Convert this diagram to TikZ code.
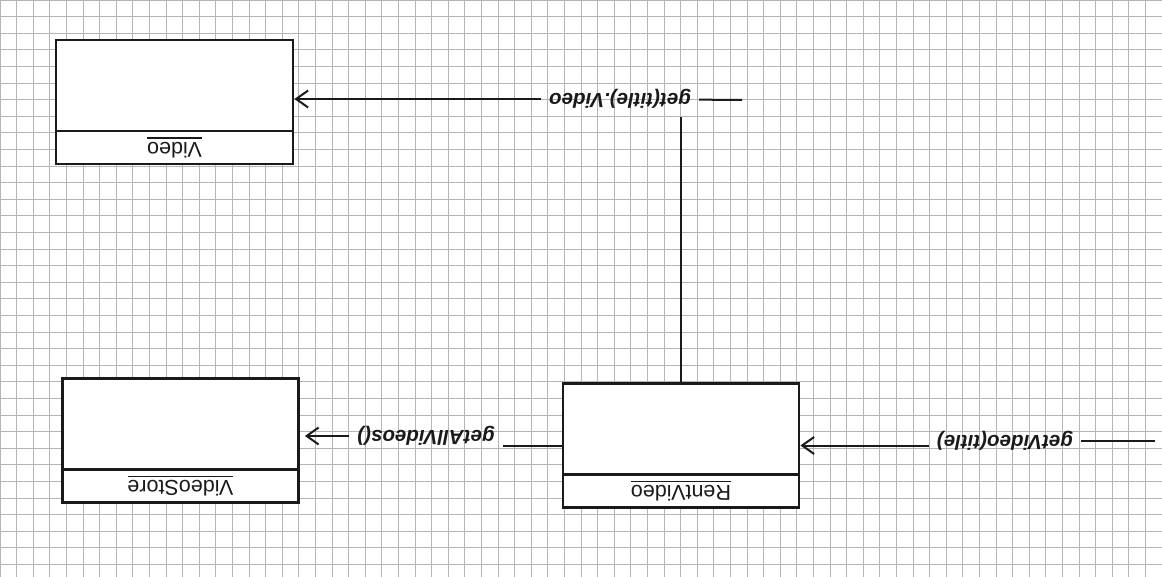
\documentclass[tikz,border=0pt]{standalone}
\usepackage{fontspec}
\setmainfont{Liberation Sans}
\usetikzlibrary{arrows.meta}
\definecolor{inkline}{HTML}{1A1A1A}
\definecolor{paperline}{HTML}{B4B4B4}
\newcommand{\clsname}[1]{\leavevmode\vtop{\hbox{#1}\kern3pt\hrule height 1.5pt}}

\begin{document}
\begin{tikzpicture}[x=1pt,y=-1pt,
classbox/.style={draw=inkline,fill=white,line width=2.8pt,minimum width=#1,minimum height=124pt,inner sep=0pt},
namebox/.style={draw=inkline,line width=2.8pt,minimum width=#1,minimum height=33pt,inner sep=0pt,
 rotate=180,anchor=north,font=\fontsize{21.5}{24}\selectfont,text=inkline},
msglabel/.style={rotate=180,inner sep=8pt,font=\fontsize{20.5}{24}\selectfont\bfseries\itshape,text=inkline},
link/.style={line width=2pt,draw=inkline},
msg/.style={link,-{Straight Barb[length=12pt,width=17pt,line width=2pt]}}]
\useasboundingbox (0,0) rectangle (1162,577);
\draw[paperline,line width=.7pt,step=16.6pt] (0pt,-577pt) grid (1162pt,0pt);
% classes
\node[classbox=237pt] (video) at (174.5,102) {};
\node[namebox=237pt] (videoname) at (video.south) {\clsname{Video}};
\node[classbox=236pt] (store) at (180.5,440.5) {};
\node[namebox=236pt] (storename) at (store.south) {\clsname{VideoStore}};
\node[classbox=236pt] (rent) at (681,445.5) {};
\node[namebox=236pt] (rentname) at (rent.south) {\clsname{RentVideo}};
% messages
\node[msglabel] (getlbl) at (620,99) {get(title).Video};
\node[msglabel] (alllbl) at (426,436) {getAllVideos()};
\node[msglabel] (vidlbl) at (1005,441) {getVideo(title)};
\coordinate (linktop) at (681,117);
\coordinate (getend) at (742,100);
\coordinate (callin) at (1155,441);
\draw[link] (rent) -- (linktop);
\draw[link] (getlbl) -- (getend);
\draw[msg] (getlbl) -- (getlbl -| video.east);
\draw[link] (rent.west) -- (rent.west -| alllbl.west);
\draw[msg,shorten >=5pt] (alllbl) -- (alllbl -| store.east);
\draw[link] (callin) -- (vidlbl);
\draw[msg] (rent.east -| vidlbl.east) -- (rent.east);
\end{tikzpicture}
\end{document}
